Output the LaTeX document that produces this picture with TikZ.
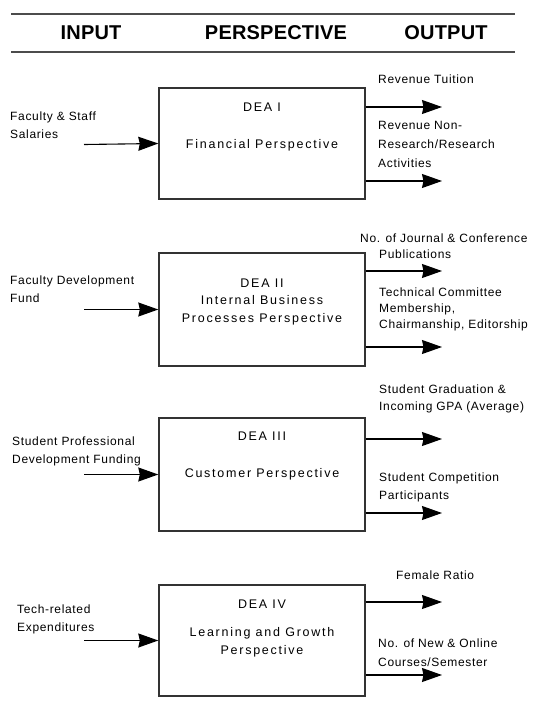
\documentclass[tikz,border=0pt]{standalone}
\usepackage{fontspec}
\setmainfont{Liberation Sans}
\newfontfamily\hdrfont{Liberation Sans}[LetterSpace=1]
\newfontfamily\boxfont{Liberation Sans}[LetterSpace=14]
\newfontfamily\lblfont{Liberation Sans}[LetterSpace=5.5]
\usetikzlibrary{arrows.meta}
\tikzset{
  hdr/.style={font=\hdrfont\fontsize{20}{24}\bfseries\selectfont, inner sep=0pt},
  pbox/.style={draw=black!80, line width=1.4pt, minimum width=206pt, inner sep=0pt},
  btxt/.style={font=\boxfont\fontsize{12.5}{18}\selectfont, inner sep=0pt, align=center},
  lbl/.style={font=\lblfont\fontsize{12}{18}\selectfont, inner sep=0pt, align=left, anchor=base west},
  arr/.style={line width=1.1pt, -{Stealth[length=20pt,width=14pt,inset=1.5pt]}},
  rule/.style={draw=black!70},
}
\begin{document}
\begin{tikzpicture}[x=1pt,y=-1pt]
\useasboundingbox (0,0) rectangle (537,702);
% header
\coordinate (r1a) at (11,14); \coordinate (r1b) at (515,14);
\coordinate (r2a) at (11,51.5); \coordinate (r2b) at (515,51.5);
\draw[rule, line width=1.3pt] (r1a) -- (r1b);
\draw[rule, line width=2pt] (r2a) -- (r2b);
\node[hdr] (hin) at (91,33) {INPUT};
\node[hdr] (hper) at (276,33) {PERSPECTIVE};
\node[hdr] (hout) at (446,33) {OUTPUT};

% boxes
\node[pbox, minimum height=111pt] (b1) at (262,143.5) {};
\node[pbox, minimum height=113pt] (b2) at (262,309.5) {};
\node[pbox, minimum height=113pt] (b3) at (262,474.5) {};
\node[pbox, minimum height=111pt] (b4) at (262,640.5) {};

% box texts
\node[btxt] (t1a) at (262,107) {DEA I};
\node[btxt] (t1b) at (262,145) {Financial Perspective};
\node[btxt] (t2a) at (262,283) {DEA II};
\node[btxt] (t2b) at (262,310) {Internal Business\\Processes Perspective};
\node[btxt] (t3a) at (262,436) {DEA III};
\node[btxt] (t3b) at (262,474) {Customer Perspective};
\node[btxt] (t4a) at (262,604) {DEA IV};
\node[btxt] (t4b) at (262,642) {Learning and Growth\\Perspective};

% inputs (anchored at the baseline of the last line)
\node[lbl] (i1) at (10,138) {Faculty \& Staff\\Salaries};
\node[lbl] (i2) at (10,302.5) {Faculty Development\\Fund};
\node[lbl] (i3) at (12,463) {Student Professional\\Development Funding};
\node[lbl] (i4) at (17,631) {Tech-related\\Expenditures};
\coordinate (s1) at (84,144.5);
\coordinate (s2) at (84,309.5);
\coordinate (s3) at (84,474.5);
\coordinate (s4) at (84,640.5);
\draw[arr] (s1) -- (b1.west);
\draw[arr] (s2) -- (b2.west);
\draw[arr] (s3) -- (b3.west);
\draw[arr] (s4) -- (b4.west);

% outputs
\coordinate (o1a) at (442,107); \coordinate (o1b) at (442,181);
\coordinate (o2a) at (442,271); \coordinate (o2b) at (442,347);
\coordinate (o3a) at (442,439); \coordinate (o3b) at (442,513);
\coordinate (o4a) at (442,602); \coordinate (o4b) at (442,675);
\draw[arr] (b1.east |- o1a) -- (o1a);
\draw[arr] (b1.east |- o1b) -- (o1b);
\draw[arr] (b2.east |- o2a) -- (o2a);
\draw[arr] (b2.east |- o2b) -- (o2b);
\draw[arr] (b3.east |- o3a) -- (o3a);
\draw[arr] (b3.east |- o3b) -- (o3b);
\draw[arr] (b4.east |- o4a) -- (o4a);
\draw[arr] (b4.east |- o4b) -- (o4b);

\node[lbl] (l1a) at (378,83.5) {Revenue Tuition};
\node[lbl, font=\lblfont\fontsize{12}{19}\selectfont] (l1b) at (378,167) {Revenue Non-\\Research/Research\\Activities};
\node[lbl] (l2a) at (360,242) {No. of Journal \& Conference};
\node[lbl] (l2b) at (379,258) {Publications};
\node[lbl, font=\lblfont\fontsize{12}{16}\selectfont] (l2c) at (379,328) {Technical Committee\\Membership,\\Chairmanship, Editorship};
\node[lbl, font=\lblfont\fontsize{12}{17}\selectfont] (l3a) at (379,410) {Student Graduation \&\\Incoming GPA (Average)};
\node[lbl] (l3b) at (379,499) {Student Competition\\Participants};
\node[lbl, font=\lblfont\fontsize{12}{19}\selectfont] (l4b) at (378,666) {No. of New \& Online\\Courses/Semester};
\node[lbl] (l4a) at (396,579) {Female Ratio};
\end{tikzpicture}
\end{document}
